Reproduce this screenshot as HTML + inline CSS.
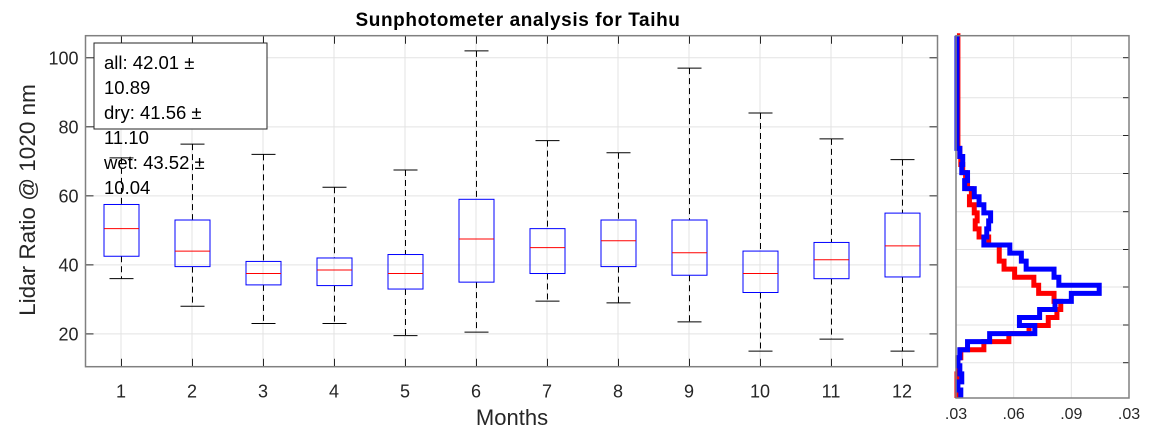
<!DOCTYPE html>
<html><head><meta charset="utf-8"><style>
body{margin:0;background:#fff;}
svg{display:block;font-family:"Liberation Sans",Arial,sans-serif;}
</style></head><body>
<svg id="c" width="1152" height="432" viewBox="0 0 1152 432">
<rect width="1152" height="432" fill="#fff"/>
<g id="main"></g>
<g id="hist"></g>
<text x="518" y="26" text-anchor="middle" font-size="19" font-weight="bold" fill="#000" letter-spacing="0.6">Sunphotometer analysis for Taihu</text>
<text transform="translate(35,200) rotate(-90)" text-anchor="middle" font-size="22.5" fill="#262626">Lidar Ratio @ 1020 nm</text>
<text x="512" y="425" text-anchor="middle" font-size="22" fill="#262626">Months</text>
<g>
<rect x="94" y="43" width="173" height="86" fill="#fff" stroke="#262626" stroke-width="1"/>
<text x="104" y="69" font-size="18.5" fill="#000">all: 42.01 ±</text>
<text x="104" y="94" font-size="18.5" fill="#000">10.89</text>
<text x="104" y="119" font-size="18.5" fill="#000">dry: 41.56 ±</text>
<text x="104" y="144" font-size="18.5" fill="#000">11.10</text>
<text x="104" y="169" font-size="18.5" fill="#000">wet: 43.52 ±</text>
<text x="104" y="194" font-size="18.5" fill="#000">10.04</text>
</g>
</svg>
<script>
const months=[1,2,3,4,5,6,7,8,9,10,11,12];
const whiskLo=[36,28,23,23,19.5,20.5,29.5,29,23.5,15,18.5,15];
const q1=[42.5,39.5,34.2,34,33,35,37.5,39.5,37,32,36,36.5];
const med=[50.5,44,37.5,38.5,37.5,47.5,45,47,43.5,37.5,41.5,45.5];
const q3=[57.5,53,41,42,43,59,50.5,53,53,44,46.5,55];
const whiskHi=[71,75,72,62.5,67.5,102,76,72.5,97,84,76.5,70.5];
const yTicks=[20,40,60,80,100];
const histRed=[0.031,0.031,0.031,0.031,0.031,0.031,0.031,0.031,0.031,0.031,0.031,0.031,0.031,0.031,0.032,0.0325,0.0335,0.035,0.036,0.038,0.037,0.0395,0.041,0.040,0.042,0.047,0.0525,0.0525,0.055,0.0605,0.0705,0.073,0.081,0.0845,0.0825,0.078,0.068,0.0575,0.0445,0.0325,0.031,0.031,0.0305,0.0305,0.0305];
const histBlue=[0.0305,0.0305,0.0305,0.0305,0.0305,0.0305,0.0305,0.0305,0.0305,0.0305,0.0305,0.0305,0.0305,0.0305,0.032,0.0335,0.033,0.036,0.0345,0.0395,0.042,0.0445,0.048,0.047,0.046,0.0445,0.058,0.064,0.0665,0.081,0.0835,0.1045,0.090,0.0815,0.0735,0.063,0.071,0.0475,0.036,0.032,0.031,0.032,0.033,0.031,0.0325];
const histXTicks=[0.03,0.06,0.09,0.12];
const histXLabels=[".03",".06",".09",".03"];

const NS="http://www.w3.org/2000/svg";
function mk(parent,tag,attrs){const e=document.createElementNS(NS,tag);for(const k in attrs)e.setAttribute(k,attrs[k]);parent.appendChild(e);return e;}
const L=85.5,R=937.5,T=35.7,B=366.7,ymin=10.5,ymax=106.4;
const xs=m=>L+(m-0.5)/12*(R-L);
const ys=v=>B-(v-ymin)/(ymax-ymin)*(B-T);
const g=document.getElementById('main');
yTicks.forEach(t=>{const l=mk(g,'line',{x1:L,x2:R,y1:ys(t),y2:ys(t),stroke:'#e3e3e3'});

});
months.forEach(m=>{const l=mk(g,'line',{x1:xs(m),x2:xs(m),y1:T,y2:B,stroke:'#e3e3e3'});

});
months.forEach((m,i)=>{
 const x=Math.round(xs(m))+0.5,hw=17.5,cw=12;
 const bg=mk(g,'g',{});
 
 
 mk(bg,'line',{x1:x,x2:x,y1:ys(whiskHi[i]),y2:ys(q3[i]),stroke:'#000','stroke-dasharray':'6,4'});
 mk(bg,'line',{x1:x,x2:x,y1:ys(q1[i]),y2:ys(whiskLo[i]),stroke:'#000','stroke-dasharray':'6,4'});
 mk(bg,'line',{x1:x-cw,x2:x+cw,y1:ys(whiskHi[i]),y2:ys(whiskHi[i]),stroke:'#000'});
 mk(bg,'line',{x1:x-cw,x2:x+cw,y1:ys(whiskLo[i]),y2:ys(whiskLo[i]),stroke:'#000'});
 mk(bg,'rect',{x:x-hw,y:ys(q3[i]),width:2*hw,height:ys(q1[i])-ys(q3[i]),fill:'none',stroke:'#0000ff'});
 mk(bg,'line',{x1:x-hw,x2:x+hw,y1:ys(med[i]),y2:ys(med[i]),stroke:'#ff0000'});
 const tl=mk(g,'text',{x:xs(m),y:B+31,'text-anchor':'middle','font-size':18,fill:'#262626'});tl.textContent=m;
 
 
 mk(g,'line',{x1:x,x2:x,y1:B,y2:B-8,stroke:'#262626'});mk(g,'line',{x1:x,x2:x,y1:T,y2:T+8,stroke:'#262626'});
});
yTicks.forEach(t=>{mk(g,'line',{x1:L,x2:L+8,y1:ys(t),y2:ys(t),stroke:'#262626'});mk(g,'line',{x1:R,x2:R-8,y1:ys(t),y2:ys(t),stroke:'#262626'});
 const tl=mk(g,'text',{x:L-7,y:ys(t)+6.5,'text-anchor':'end','font-size':18,fill:'#262626'});tl.textContent=t;
 
 });
mk(g,'rect',{x:L,y:T,width:R-L,height:B-T,fill:'none',stroke:'#808080','stroke-width':1.5});

const h=document.getElementById('hist');
const HL=956,HR=1129,HT=35.7,HB=398,hxmin=0.03,hxmax=0.12;
const hx=v=>HL+(v-hxmin)/(hxmax-hxmin)*(HR-HL);
const n=histBlue.length,bh=(HB-HT)/n;
const hy=i=>HT+i*bh;
const hGridY=[57.7,97.7,135.5,173.5,211.7,249.5,287,325,362.7];
hGridY.forEach(y=>{mk(h,'line',{x1:HL,x2:HR,y1:y,y2:y,stroke:'#e3e3e3'});mk(h,'line',{x1:HR,x2:HR-6,y1:y,y2:y,stroke:'#262626'});});
histXTicks.forEach((t,i)=>{mk(h,'line',{x1:hx(t),x2:hx(t),y1:HT,y2:HB,stroke:'#e3e3e3'});
 const tl=mk(h,'text',{x:hx(t),y:HB+21,'text-anchor':'middle','font-size':16,fill:'#262626'});tl.textContent=histXLabels[i];
 
 });
function stairs(arr,color,name){
 let d='M'+hx(hxmin+0.0005)+','+HT;
 arr.forEach((v,i)=>{d+=' L'+hx(v)+','+hy(i)+' L'+hx(v)+','+hy(i+1);});
 const p=mk(h,'path',{d:d,fill:'none',stroke:color,'stroke-width':5});
 
 
}
stairs(histRed,'#ff0000','hist-red-series');
stairs(histBlue,'#0000ff','hist-blue-series');
mk(h,'rect',{x:HL,y:HT,width:HR-HL,height:HB-HT,fill:'none',stroke:'#808080','stroke-width':1.5});
</script>
</body></html>
